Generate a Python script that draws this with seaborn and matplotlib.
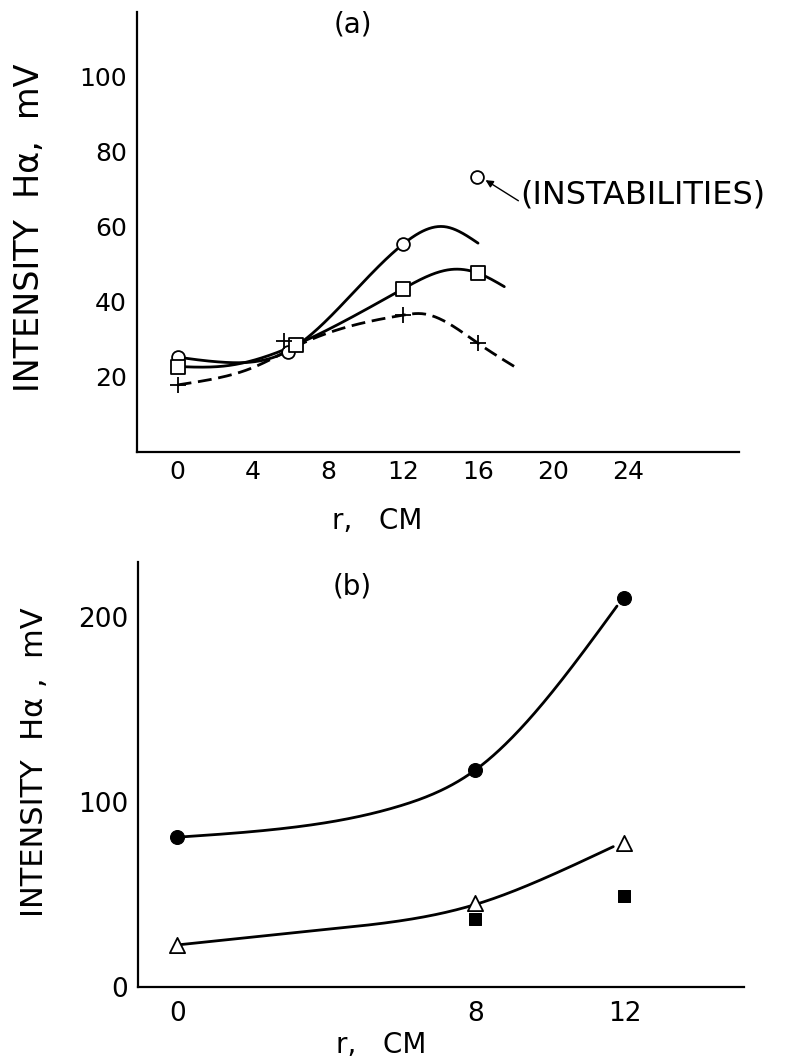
import numpy as np
import pandas as pd
import matplotlib
matplotlib.use("Agg")
import matplotlib.pyplot as plt
import seaborn as sns

sns.set_style("white")
plt.rcParams["font.family"] = ["DejaVu Sans"]
plt.rcParams["text.color"] = "black"
plt.rcParams["axes.labelcolor"] = "black"
plt.rcParams["xtick.color"] = "black"
plt.rcParams["ytick.color"] = "black"

# ---------------- data: panel (a) ----------------
# measured points
a_circle_r = [0, 5.86, 12]
a_circle_v = [25.2, 26.7, 55.3]
a_square_r = [0, 6.3, 12, 16]
a_square_v = [22.7, 28.5, 43.4, 47.6]
a_plus_r = [0, 5.64, 12, 16]
a_plus_v = [17.8, 29.6, 36.4, 28.9]
a_instab_r = [15.95]
a_instab_v = [73.3]
# hand-drawn fitted curves (knots)
a_circle_curve_r = [0, 2.6, 5.86, 9.0, 12, 14.2, 16.0]
a_circle_curve_v = [25.2, 23.8, 26.8, 40.5, 55.3, 60.0, 55.6]
a_square_curve_r = [0, 2.6, 6.3, 12, 14.6, 16, 17.4]
a_square_curve_v = [22.7, 22.9, 28.5, 43.4, 48.6, 47.6, 44.0]
a_plus_curve_r = [0, 2.1, 3.9, 6.7, 12, 13.0, 16, 18.1]
a_plus_curve_v = [17.8, 19.6, 22.2, 29.0, 36.4, 36.8, 28.9, 22.2]
a_xticks = [0, 4, 8, 12, 16, 20, 24]
a_yticks = [20, 40, 60, 80, 100]

# ---------------- data: panel (b) ----------------
b_circle_r = [0, 8, 12]
b_circle_v = [80.9, 117.3, 210.3]
b_tri_r = [0, 8, 12]
b_tri_v = [22.6, 45.1, 77.6]
b_square_r = [8, 12]
b_square_v = [36.5, 49.1]
b_circle_curve_r = [0, 3, 6, 8, 10, 11.8]
b_circle_curve_v = [80.9, 86.0, 98.0, 117.3, 158.0, 206.0]
b_tri_curve_r = [0, 4, 8, 10, 11.7]
b_tri_curve_v = [22.6, 31.0, 44.5, 60.0, 75.8]
b_xticks = [0, 8, 12]
b_yticks = [0, 100, 200]


def smooth(xk, yk, n=300):
    """natural cubic spline through the knots (for drawing the curves)"""
    xk = np.asarray(xk, float)
    yk = np.asarray(yk, float)
    m = len(xk)
    h = np.diff(xk)
    A = np.zeros((m, m))
    rhs = np.zeros(m)
    A[0, 0] = 1
    A[-1, -1] = 1
    for i in range(1, m - 1):
        A[i, i - 1] = h[i - 1]
        A[i, i] = 2 * (h[i - 1] + h[i])
        A[i, i + 1] = h[i]
        rhs[i] = 6 * ((yk[i + 1] - yk[i]) / h[i] - (yk[i] - yk[i - 1]) / h[i - 1])
    M = np.linalg.solve(A, rhs)
    xs = np.linspace(xk[0], xk[-1], n)
    idx = np.clip(np.searchsorted(xk, xs) - 1, 0, m - 2)
    x0, x1 = xk[idx], xk[idx + 1]
    hh = x1 - x0
    t0, t1 = x1 - xs, xs - x0
    ys = (M[idx] * t0 ** 3 + M[idx + 1] * t1 ** 3) / (6 * hh) \
        + (yk[idx] / hh - M[idx] * hh / 6) * t0 \
        + (yk[idx + 1] / hh - M[idx + 1] * hh / 6) * t1
    return xs, ys


W, H = 792, 1063
fig = plt.figure(figsize=(W / 100, H / 100), dpi=100)


def frac(l, t, r, b):
    return [l / W, 1 - b / H, (r - l) / W, (b - t) / H]


ax1 = fig.add_axes(frac(136.7, 11.7, 739, 451.7))
ax2 = fig.add_axes(frac(138.2, 561.7, 743.7, 986.7))

LW = 2.0
for ax in (ax1, ax2):
    for s in ("top", "right"):
        ax.spines[s].set_visible(False)
    for s in ("left", "bottom"):
        ax.spines[s].set_linewidth(1.6)
        ax.spines[s].set_color("black")
    ax.set_facecolor("white")

# ---- panel (a) ----
xs, ys = smooth(a_circle_curve_r, a_circle_curve_v)
sns.lineplot(x=xs, y=ys, ax=ax1, color="black", lw=LW, sort=False, estimator=None)
xs, ys = smooth(a_square_curve_r, a_square_curve_v)
sns.lineplot(x=xs, y=ys, ax=ax1, color="black", lw=LW, sort=False, estimator=None)
xs, ys = smooth(a_plus_curve_r, a_plus_curve_v)
sns.lineplot(x=xs, y=ys, ax=ax1, color="black", lw=LW, sort=False, estimator=None,
             linestyle=(0, (5, 2.4)))

sns.scatterplot(x=a_circle_r + a_instab_r, y=a_circle_v + a_instab_v, ax=ax1, marker="o",
                s=85, facecolor="white", edgecolor="black", linewidth=1.3, zorder=4)
sns.scatterplot(x=a_square_r, y=a_square_v, ax=ax1, marker="s", s=95,
                facecolor="white", edgecolor="black", linewidth=1.3, zorder=4)
sns.scatterplot(x=a_plus_r, y=a_plus_v, ax=ax1, marker="+", s=130,
                color="black", linewidth=1.3, zorder=4)

ax1.annotate("", xy=(16.4, 72.4), xytext=(18.15, 66.9),
             arrowprops=dict(arrowstyle="-|>", color="black", lw=1.0,
                             mutation_scale=11, shrinkA=0, shrinkB=0))
ax1.text(18.25, 68.5, "(INSTABILITIES)", fontsize=23, ha="left", va="center")
ax1.text(9.33, 113.8, "(a)", fontsize=20, ha="center", va="center")

ax1.set_xlim(-2.18, 29.9)
ax1.set_ylim(0, 117.3)
ax1.set_xticks(a_xticks)
ax1.set_xticklabels([str(v) for v in a_xticks])
ax1.set_yticks(a_yticks)
ax1.set_yticklabels([str(v) for v in a_yticks])
ax1.tick_params(axis="both", direction="in", length=8, width=1.3, colors="black",
                labelsize=18)
ax1.tick_params(axis="y", pad=7)
ax1.tick_params(axis="x", pad=6)
ax1.set_xlabel("r,   CM", fontsize=20)
ax1.xaxis.set_label_coords(0.40, -0.125)
ax1.set_ylabel("INTENSITY  H\u03b1,  mV", fontsize=24)
ax1.yaxis.set_label_coords(-0.15, 0.508)

# ---- panel (b) ----
xs, ys = smooth(b_circle_curve_r, b_circle_curve_v)
sns.lineplot(x=xs, y=ys, ax=ax2, color="black", lw=LW, sort=False, estimator=None)
xs, ys = smooth(b_tri_curve_r, b_tri_curve_v)
sns.lineplot(x=xs, y=ys, ax=ax2, color="black", lw=LW, sort=False, estimator=None)

sns.scatterplot(x=b_circle_r, y=b_circle_v, ax=ax2, marker="o", s=100,
                color="black", edgecolor="black", zorder=4)
sns.scatterplot(x=b_tri_r, y=b_tri_v, ax=ax2, marker="^", s=120,
                facecolor="white", edgecolor="black", linewidth=1.3, zorder=4)
sns.scatterplot(x=b_square_r, y=b_square_v, ax=ax2, marker="s", s=80,
                color="black", edgecolor="black", zorder=4)

ax2.text(4.7, 216.6, "(b)", fontsize=20, ha="center", va="center")

ax2.set_xlim(-1.05, 15.2)
ax2.set_ylim(0, 230)
ax2.set_xticks(b_xticks)
ax2.set_xticklabels([str(v) for v in b_xticks])
ax2.set_yticks(b_yticks)
ax2.set_yticklabels([str(v) for v in b_yticks])
ax2.tick_params(axis="both", direction="in", length=9, width=1.3, colors="black",
                labelsize=19)
ax2.tick_params(axis="y", pad=7)
ax2.tick_params(axis="x", pad=10)
ax2.set_xlabel("r,   CM", fontsize=20)
ax2.xaxis.set_label_coords(0.401, -0.105)
ax2.set_ylabel("INTENSITY  H\u03b1 ,  mV", fontsize=22)
ax2.yaxis.set_label_coords(-0.148, 0.529)

fig.savefig("out.png", dpi=100, facecolor="white")
